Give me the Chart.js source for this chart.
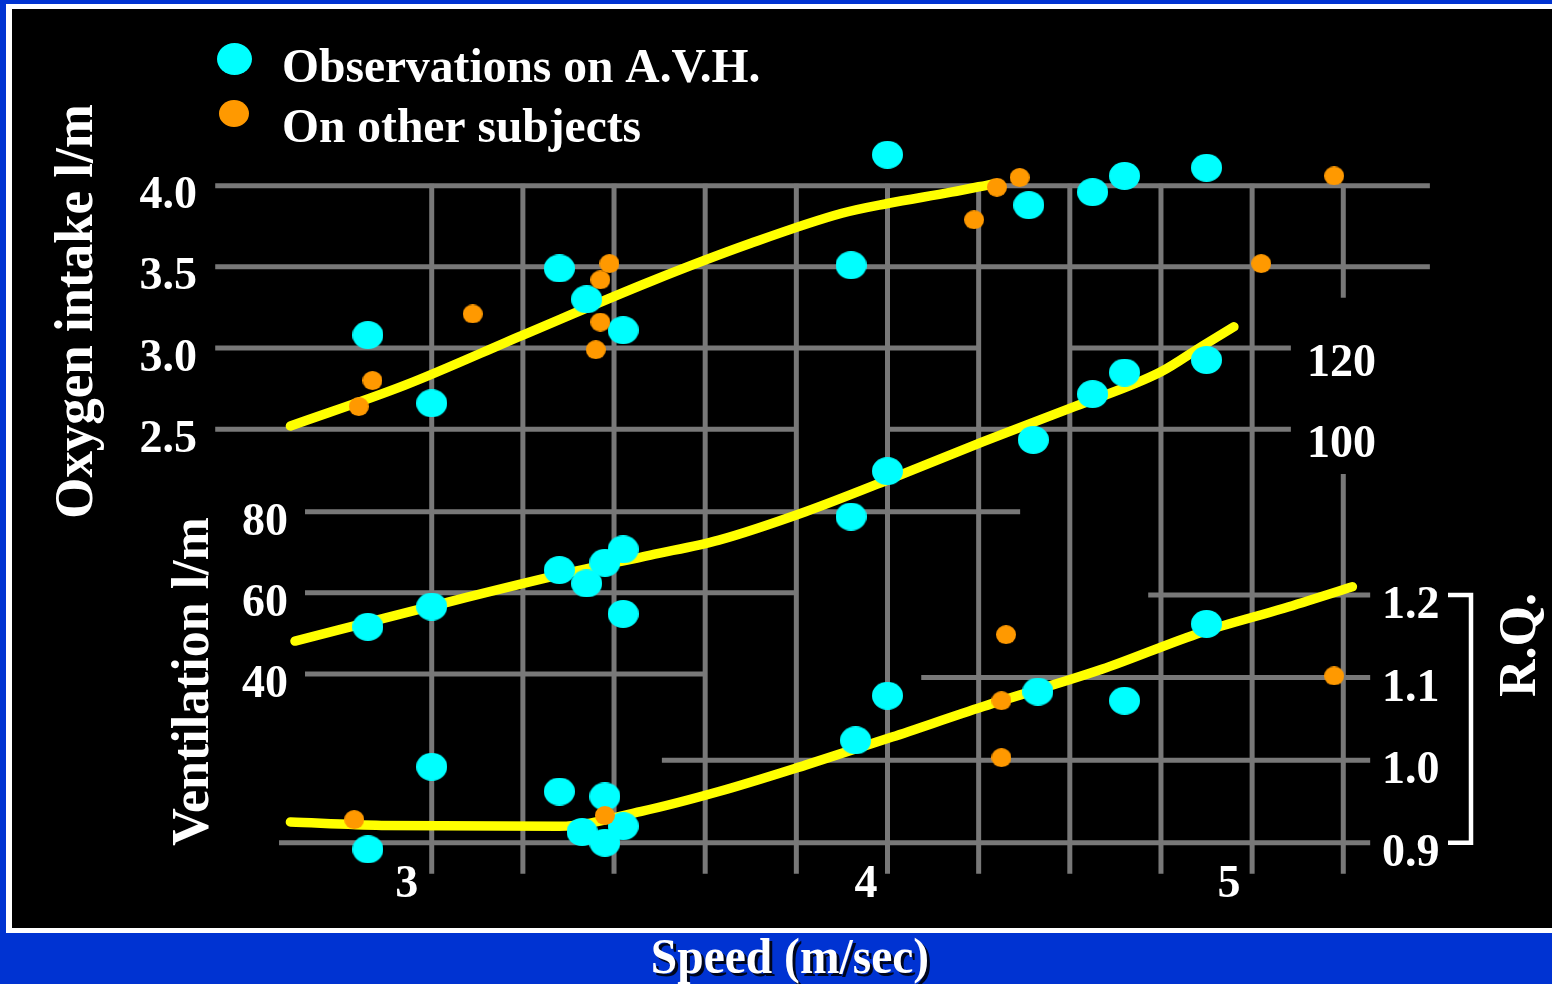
<!DOCTYPE html>
<html>
<head>
<meta charset="utf-8">
<script src="https://cdn.jsdelivr.net/npm/chart.js@4.4.1/dist/chart.umd.min.js"></script>
<style>
  html, body { margin: 0; padding: 0; background: #0033d2; overflow: hidden; }
  canvas { display: block; }
</style>
</head>
<body>
<canvas id="speedChart" width="1552" height="984"></canvas>
<script>
// oxygen intake (l/m) against speed (m/sec)
const o2AvhSpeed = [2.86, 3.00, 3.28, 3.34, 3.42, 3.92, 4.00, 4.31, 4.45, 4.52, 4.70];
const o2AvhValue = [3.08, 2.66, 3.49, 3.30, 3.11, 3.51, 4.19, 3.88, 3.96, 4.06, 4.11];
const o2OtherSpeed = [2.84, 2.87, 3.09, 3.36, 3.37, 3.37, 3.39, 4.19, 4.24, 4.29, 4.82, 4.98];
const o2OtherValue = [2.64, 2.80, 3.21, 2.99, 3.42, 3.16, 3.52, 3.79, 3.99, 4.05, 3.52, 4.06];
const o2CurveSpeed = [2.69, 2.94, 3.20, 3.48, 3.70, 3.90, 4.00, 4.14, 4.23];
const o2CurveValue = [2.52, 2.77, 3.08, 3.41, 3.645, 3.83, 3.89, 3.96, 4.01];

// ventilation (l/m)
const ventAvhSpeed = [2.86, 3.00, 3.28, 3.34, 3.38, 3.42, 3.42, 3.92, 4.00, 4.32, 4.45, 4.52, 4.70];
const ventAvhValue = [51.6, 56.6, 65.6, 62.3, 67.4, 70.7, 54.8, 78.8, 90.0, 97.7, 109.0, 114.3, 117.4];
const ventCurveSpeed = [2.70, 3.00, 3.28, 3.48, 3.63, 3.82, 4.00, 4.21, 4.41, 4.60, 4.69, 4.76];
const ventCurveValue = [48.1, 56.7, 64.4, 69.3, 73.0, 80.0, 87.8, 97.3, 105.9, 114.5, 120.8, 125.6];

// respiratory quotient
const rqAvhSpeed = [2.86, 3.00, 3.28, 3.38, 3.33, 3.38, 3.42, 3.93, 4.00, 4.33, 4.52, 4.70];
const rqAvhValue = [0.892, 0.992, 0.962, 0.956, 0.913, 0.900, 0.920, 1.024, 1.078, 1.083, 1.072, 1.165];
const rqOtherSpeed = [2.83, 3.38, 4.26, 4.25, 4.25, 4.98];
const rqOtherValue = [0.928, 0.933, 1.152, 1.072, 1.003, 1.102];
const rqCurveSpeed = [2.69, 2.89, 3.28, 3.46, 3.63, 3.82, 4.01, 4.21, 4.47, 4.69, 4.87, 5.02];
const rqCurveValue = [0.925, 0.921, 0.920, 0.938, 0.962, 0.994, 1.028, 1.065, 1.110, 1.155, 1.184, 1.210];

// tick labels
const speedLabels = ['3', '4', '5'];
const speedLabelAt = [2.945, 3.953, 4.749];
const o2Ticks = [4.0, 3.5, 3.0, 2.5];
const ventTicksLeft = [80, 60, 40];
const ventTicksRight = [120, 100];
const rqTicks = [1.2, 1.1, 1.0, 0.9];

const cyan = '#00ffff';
const orange = '#ff9900';
const yellow = '#ffff00';
const gridGrey = '#787878';
const serif = '"Liberation Serif", "Times New Roman", serif';

// grid pieces: [axis, value, [[fromSpeed, toSpeed], ...]]
const hGrid = [
  ['yO2', 4.0, [[2.525, 5.19]]],
  ['yO2', 3.5, [[2.525, 5.19]]],
  ['yO2', 3.0, [[2.525, 4.2], [4.4, 4.885]]],
  ['yO2', 2.5, [[2.525, 3.8], [4.0, 4.885]]],
  ['yV', 80, [[2.722, 4.291]]],
  ['yV', 60, [[2.722, 3.8]]],
  ['yRQ', 1.2, [[4.572, 5.059]]],
  ['yV', 40, [[2.722, 3.6]]],
  ['yRQ', 1.1, [[4.074, 5.059]]],
  ['yRQ', 1.0, [[3.505, 5.059]]],
  ['yRQ', 0.9, [[2.665, 5.059]]],
];
const vGridSpeeds = [3.0, 3.2, 3.4, 3.6, 3.8, 4.0, 4.2, 4.4, 4.6, 4.8, 5.0];

const pairs = (xs, ys) => xs.map((x, i) => ({ x: x, y: ys[i] }));

function ellipseDot(color, w, h) {
  const c = document.createElement('canvas');
  c.width = w;
  c.height = h;
  const g = c.getContext('2d');
  g.fillStyle = color;
  g.beginPath();
  g.ellipse(w / 2, h / 2, w / 2, h / 2, 0, 0, Math.PI * 2);
  g.fill();
  return c;
}
const cyanDot = ellipseDot(cyan, 31, 28);
const orangeDot = ellipseDot(orange, 20, 19);

function drawText(ctx, text, x, y, size, align, angle, squeeze, shadow) {
  ctx.save();
  ctx.translate(x, y);
  ctx.rotate(angle || 0);
  ctx.scale(squeeze || 1, 1);
  ctx.font = 'bold ' + size + 'px ' + serif;
  ctx.textAlign = align;
  ctx.textBaseline = 'alphabetic';
  if (shadow) {
    ctx.shadowColor = 'rgba(0,0,0,0.85)';
    ctx.shadowOffsetX = 3;
    ctx.shadowOffsetY = 3;
  }
  ctx.fillStyle = '#ffffff';
  ctx.fillText(text, 0, 0);
  ctx.restore();
}

function curve(label, data, axis) {
  return {
    type: 'line',
    label: label,
    data: data,
    yAxisID: axis,
    borderColor: yellow,
    borderWidth: 9.5,
    borderCapStyle: 'round',
    borderJoinStyle: 'round',
    pointRadius: 0,
    cubicInterpolationMode: 'monotone',
    fill: false,
    order: 3,
  };
}

function dots(label, data, axis, dot, order) {
  return {
    label: label,
    data: data,
    yAxisID: axis,
    pointStyle: dot,
    pointRadius: dot.width / 2,
    borderWidth: 0,
    backgroundColor: dot === cyanDot ? cyan : orange,
    clip: false,
    order: order,
  };
}

const slidePlugin = {
  id: 'slide',
  beforeDraw(chart) {
    const ctx = chart.ctx;
    ctx.save();
    ctx.fillStyle = '#0033d2';
    ctx.fillRect(0, 0, chart.width, chart.height);
    ctx.fillStyle = '#ffffff';
    ctx.fillRect(6, 4, chart.width - 6, 929);
    ctx.fillStyle = '#000000';
    ctx.fillRect(12, 9, chart.width - 12, 919);
    ctx.restore();
  },
  beforeDatasetsDraw(chart) {
    const ctx = chart.ctx;
    const s = chart.scales;
    ctx.save();
    ctx.strokeStyle = gridGrey;
    ctx.lineWidth = 5;
    hGrid.forEach(([axis, value, pieces]) => {
      const py = s[axis].getPixelForValue(value);
      pieces.forEach(([a, b]) => {
        ctx.beginPath();
        ctx.moveTo(s.x.getPixelForValue(a), py);
        ctx.lineTo(s.x.getPixelForValue(b), py);
        ctx.stroke();
      });
    });
    const top = s.yO2.getPixelForValue(4.0) - 2;
    const bottom = s.yRQ.getPixelForValue(0.9) + 31;
    vGridSpeeds.forEach((sp) => {
      const px = s.x.getPixelForValue(sp);
      let pieces = [[top, bottom]];
      if (sp === 5.0) {
        pieces = [[top, s.yO2.getPixelForValue(3.31)], [s.yV.getPixelForValue(89.3), bottom]];
      }
      pieces.forEach(([a, b]) => {
        ctx.beginPath();
        ctx.moveTo(px, a);
        ctx.lineTo(px, b);
        ctx.stroke();
      });
    });
    ctx.restore();
  },
  afterDatasetsDraw(chart) {
    const ctx = chart.ctx;
    const s = chart.scales;

    o2Ticks.forEach((v) => drawText(ctx, v.toFixed(1), 197, s.yO2.getPixelForValue(v) + 22.5, 46, 'right'));
    ventTicksLeft.forEach((v) => drawText(ctx, String(v), 288, s.yV.getPixelForValue(v) + 23.5, 46, 'right'));
    ventTicksRight.forEach((v) => drawText(ctx, String(v), 1307, s.yV.getPixelForValue(v) + 26.5, 46, 'left'));
    rqTicks.forEach((v) => drawText(ctx, v.toFixed(1), 1382, s.yRQ.getPixelForValue(v) + 23, 46, 'left'));
    speedLabels.forEach((t, i) => drawText(ctx, t, s.x.getPixelForValue(speedLabelAt[i]), 897, 46, 'center'));

    // R.Q. bracket
    const bx0 = 1448, bx1 = 1471;
    const b12 = s.yRQ.getPixelForValue(1.2);
    const b09 = s.yRQ.getPixelForValue(0.9);
    ctx.save();
    ctx.strokeStyle = '#ffffff';
    ctx.lineWidth = 4.5;
    ctx.beginPath();
    ctx.moveTo(bx0, b12);
    ctx.lineTo(bx1, b12);
    ctx.lineTo(bx1, b09);
    ctx.lineTo(bx0, b09);
    ctx.stroke();
    ctx.restore();

    drawText(ctx, 'Oxygen intake l/m', 92, 311.5, 54, 'center', -Math.PI / 2, 0.98);
    drawText(ctx, 'Ventilation l/m', 208, 681.5, 53, 'center', -Math.PI / 2, 0.98);
    drawText(ctx, 'R.Q.', 1535, 645, 53, 'center', -Math.PI / 2, 0.98);

    // legend
    ctx.save();
    ctx.fillStyle = cyan;
    ctx.beginPath();
    ctx.ellipse(234.5, 59, 17.5, 16, 0, 0, Math.PI * 2);
    ctx.fill();
    ctx.fillStyle = orange;
    ctx.beginPath();
    ctx.ellipse(234, 113.5, 15, 13.5, 0, 0, Math.PI * 2);
    ctx.fill();
    ctx.restore();
    drawText(ctx, 'Observations on A.V.H.', 282, 82, 49, 'left', 0, 0.97);
    drawText(ctx, 'On other subjects', 282, 142, 49, 'left', 0, 0.97);

    drawText(ctx, 'Speed (m/sec)', 790, 973, 50, 'center', 0, 0.95, true);
  },
};

const config = {
  type: 'scatter',
  data: {
    datasets: [
      curve('Oxygen intake curve', pairs(o2CurveSpeed, o2CurveValue), 'yO2'),
      curve('Ventilation curve', pairs(ventCurveSpeed, ventCurveValue), 'yV'),
      curve('R.Q. curve', pairs(rqCurveSpeed, rqCurveValue), 'yRQ'),
      dots('Oxygen intake, A.V.H.', pairs(o2AvhSpeed, o2AvhValue), 'yO2', cyanDot, 2),
      dots('Ventilation, A.V.H.', pairs(ventAvhSpeed, ventAvhValue), 'yV', cyanDot, 2),
      dots('R.Q., A.V.H.', pairs(rqAvhSpeed, rqAvhValue), 'yRQ', cyanDot, 2),
      dots('Oxygen intake, other subjects', pairs(o2OtherSpeed, o2OtherValue), 'yO2', orangeDot, 1),
      dots('R.Q., other subjects', pairs(rqOtherSpeed, rqOtherValue), 'yRQ', orangeDot, 1),
    ],
  },
  options: {
    responsive: false,
    animation: false,
    devicePixelRatio: 1,
    events: [],
    layout: { padding: { left: 249.4, right: 26.4, top: 20, bottom: 54 } },
    plugins: {
      legend: { display: false },
      tooltip: { enabled: false },
    },
    scales: {
      x: { type: 'linear', min: 2.6, max: 5.4, display: false },
      y: { type: 'linear', display: false },
      yO2: { type: 'linear', axis: 'y', min: -0.583, max: 5.02, display: false },
      yV: { type: 'linear', axis: 'y', min: -23.16, max: 201.26, display: false },
      yRQ: { type: 'linear', axis: 'y', min: 0.7943, max: 1.8964, display: false },
    },
  },
  plugins: [slidePlugin],
};

const myChart = new Chart(document.getElementById('speedChart'), config);
</script>
</body>
</html>
